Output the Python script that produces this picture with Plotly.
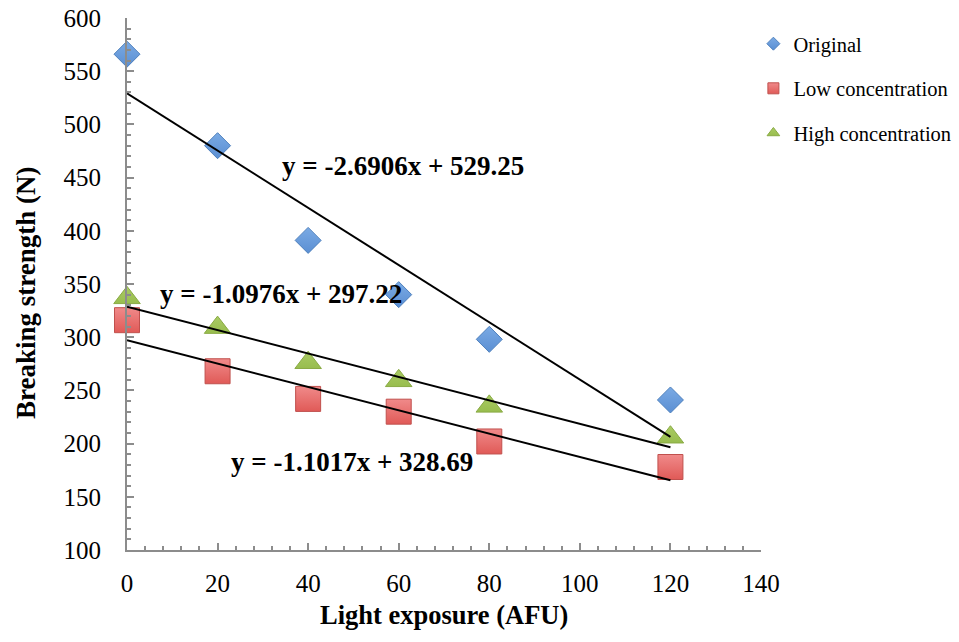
import plotly.graph_objects as go

# Light exposure levels (AFU)
exposure = [0, 20, 40, 60, 80, 120]

# Breaking strength (N) for each sample group
original = [566, 480, 391, 340, 298, 241]
low_conc = [316, 268, 242, 230, 202, 178]
high_conc = [337, 309, 276, 259, 235, 206]

# Linear fits (slope, intercept) as printed on the chart
fit_original = (-2.6906, 529.25)
fit_low = (-1.0976, 297.22)
fit_high = (-1.1017, 328.69)

series_names = ["Original", "Low concentration", "High concentration"]

SERIF = "Liberation Serif, Times New Roman, serif"

fig = go.Figure()

marker_styles = [
    dict(symbol="diamond", size=20, color="#7aaae4",
         line=dict(color="#4f81bd", width=1),
         gradient=dict(type="vertical", color="#5b8fd3")),
    dict(symbol="square", size=25, color="#f08a8a",
         line=dict(color="#c0504d", width=1),
         gradient=dict(type="vertical", color="#e05a57")),
    dict(symbol="triangle-up", size=23, color="#aacb64",
         line=dict(color="#8aab45", width=1),
         gradient=dict(type="vertical", color="#98bd4e")),
]

for name, values, style in zip(series_names, [original, low_conc, high_conc], marker_styles):
    fig.add_trace(go.Scatter(x=exposure, y=values, mode="markers", name=name,
                             marker=style, showlegend=False, cliponaxis=False))

# Trend lines drawn from the fitted coefficients
x_fit = [exposure[0], exposure[-1]]
for slope, intercept in [fit_original, fit_high, fit_low]:
    fig.add_trace(go.Scatter(x=x_fit, y=[intercept + slope * x for x in x_fit],
                             mode="lines", line=dict(color="black", width=2),
                             showlegend=False, hoverinfo="skip"))

# Compact legend entries
legend_sizes = [10, 11, 11]
for i, (name, style) in enumerate(zip(series_names, marker_styles)):
    s = dict(style)
    s["size"] = legend_sizes[i]
    fig.add_trace(go.Scatter(x=[None], y=[None], mode="markers", name=name,
                             marker=s, legendgroup=f"g{i}"))

# Equation labels
eq_labels = [
    (fit_original, 61, 461),
    (fit_low, 34, 341),
    (fit_high, 49.7, 183),
]
for (slope, intercept), lx, ly in eq_labels:
    fig.add_annotation(x=lx, y=ly, text=f"y = {slope}x + {intercept}",
                       showarrow=False,
                       font=dict(family=SERIF, size=27, color="black", weight="bold"))

# Axis titles
fig.add_annotation(xref="paper", yref="paper", x=0.5, y=-0.1222,
                   text="<b>Light exposure (AFU)</b>", showarrow=False,
                   xanchor="center", yanchor="middle",
                   font=dict(family=SERIF, size=26.5, color="black"))
fig.add_annotation(xref="paper", yref="paper", x=-0.1593, y=0.483,
                   text="<b>Breaking strength (N)</b>", showarrow=False,
                   textangle=-90, xanchor="center", yanchor="middle",
                   font=dict(family=SERIF, size=27, color="black"))

axis_common = dict(
    showline=True, linecolor="#8c8c8c", linewidth=2,
    ticks="inside", ticklen=7, tickwidth=1.5, tickcolor="#8c8c8c",
    showgrid=False, zeroline=False,
    tickfont=dict(family=SERIF, size=25, color="black"),
)

fig.update_xaxes(
    range=[0, 140], dtick=20, tick0=0,
    minor=dict(ticks="inside", ticklen=4, dtick=4, tickcolor="#8c8c8c", tickwidth=1.5),
    ticklabelstandoff=10,
    **axis_common,
)
fig.update_yaxes(
    range=[100, 600], dtick=50, tick0=100,
    minor=dict(ticks="inside", ticklen=4, dtick=10, tickcolor="#8c8c8c", tickwidth=1.5),
    ticklabelstandoff=19,
    **axis_common,
)

fig.update_layout(
    width=959, height=642,
    margin=dict(l=127, r=198, t=18, b=92, autoexpand=False),
    plot_bgcolor="white", paper_bgcolor="white",
    legend=dict(x=0.988, y=0.989, xanchor="left", yanchor="top",
                font=dict(family=SERIF, size=20.5, color="black"),
                tracegroupgap=15, itemwidth=30, bgcolor="rgba(0,0,0,0)"),
)

fig.write_html("out.html")
